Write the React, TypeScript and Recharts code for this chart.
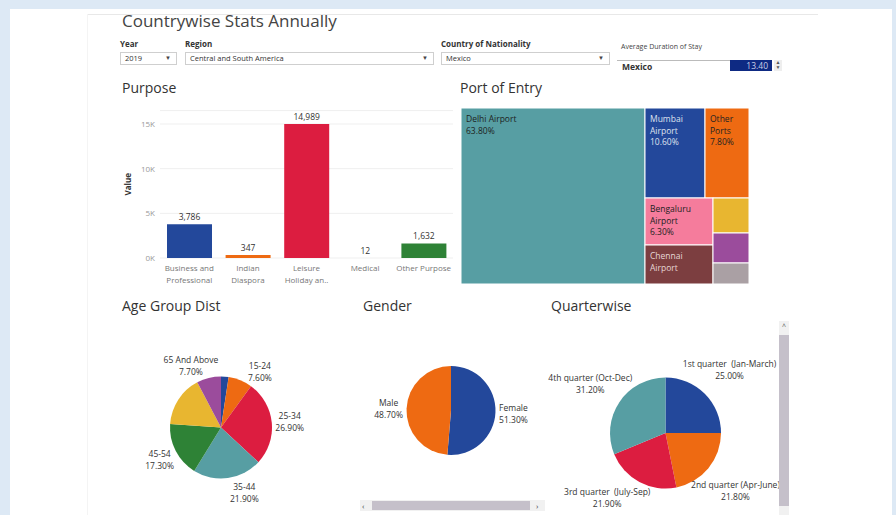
import React from 'react';
import { BarChart, Bar, XAxis, YAxis, CartesianGrid, Cell, LabelList, Treemap, PieChart, Pie } from 'recharts';

// Purpose of visit
const purposeCategories = ['Business and Professional', 'Indian Diaspora', 'Leisure Holiday and Recreation', 'Medical', 'Other Purpose'];
const purposeTickLines = [['Business and', 'Professional'], ['Indian', 'Diaspora'], ['Leisure', 'Holiday an..'], ['Medical'], ['Other Purpose']];
const purposeValues = [3786, 347, 14989, 12, 1632];
const purposeTicks = [0, 5000, 10000, 15000];

// Port of entry (share %)
const ports = ['Delhi Airport', 'Mumbai Airport', 'Other Ports', 'Bengaluru Airport', 'Chennai Airport', 'Kolkata Airport', 'Hyderabad Airport', 'Kochi Airport', 'Goa Airport'];
const portShare = [63.8, 10.6, 7.8, 6.3, 5.3, 2.5, 2.1, 1.5, 0.1];
const portLabelLines = [['Delhi Airport', '63.80%'], ['Mumbai', 'Airport', '10.60%'], ['Other', 'Ports', '7.80%'], ['Bengaluru', 'Airport', '6.30%'], ['Chennai', 'Airport'], [], [], [], []];

// Age groups (share %)
const ageGroups = ['0-14', '15-24', '25-34', '35-44', '45-54', '55-64', '65 And Above'];
const ageShare = [2.4, 7.6, 26.9, 21.9, 17.3, 16.2, 7.7];
const ageLabelShown = [false, true, true, true, true, false, true];

// Gender (share %)
const genders = ['Female', 'Male'];
const genderShare = [51.3, 48.7];

// Quarters (share %)
const quarters = ['1st quarter  (Jan-March)', '2nd quarter (Apr-June)', '3rd quarter  (July-Sep)', '4th quarter (Oct-Dec)'];
const quarterShare = [25.0, 21.8, 21.9, 31.2];

const C = {
  blue: '#23489b',
  orange: '#ee6a12',
  red: '#dc1d40',
  teal: '#579ea3',
  green: '#2e8236',
  yellow: '#e8b630',
  purple: '#9b4c9c',
  brown: '#7c3e40',
  pink: '#f57c9c',
  gray: '#aaa0a4',
  lime: '#3aa63e',
};

const purposeColors = [C.blue, C.orange, C.red, C.blue, C.green];
const portColors = [C.teal, C.blue, C.orange, C.pink, C.brown, C.yellow, C.purple, C.gray, C.lime];
const portTextColors = ['#1e1e1e', '#dfe2ee', '#222', '#222', '#e6d6d6', '#222', '#222', '#222', '#222'];
const ageColors = [C.blue, C.orange, C.red, C.teal, C.green, C.yellow, C.purple];
const genderColors = [C.blue, C.orange];
const quarterColors = [C.blue, C.orange, C.red, C.teal];

const purposeData = purposeCategories.map((name, i) => ({ name, value: purposeValues[i] }));
const portData = ports.map((name, i) => ({ name, size: portShare[i] }));
const ageData = ageGroups.map((name, i) => ({ name, value: ageShare[i] }));
const genderData = genders.map((name, i) => ({ name, value: genderShare[i] }));
const quarterData = quarters.map((name, i) => ({ name, value: quarterShare[i] }));

const FONT = '"Open Sans", sans-serif';
const RAD = Math.PI / 180;

const abs = (left: number, top: number, extra: React.CSSProperties = {}): React.CSSProperties => ({
  position: 'absolute',
  left,
  top,
  ...extra,
});

const PurposeTick = ({ x, y, index }: any) => (
  <text x={x} y={y} textAnchor="middle" fontSize={8} fill="#777" fontFamily={FONT}>
    {(purposeTickLines[index] || []).map((t, i) => (
      <tspan key={i} x={x} dy={i === 0 ? 11 : 12}>{t}</tspan>
    ))}
  </text>
);

const ValueLabel = ({ viewBox }: any) => {
  const x = viewBox.x + 8;
  const y = viewBox.y + viewBox.height / 2;
  return (
    <text x={x} y={y} transform={`rotate(-90 ${x} ${y})`} textAnchor="middle" dominantBaseline="central"
      fontSize={8} fontWeight={700} fill="#333" fontFamily={FONT}>Value</text>
  );
};

const PortCell = (props: any) => {
  const { depth, x, y, width, height, index } = props;
  if (depth !== 1) return null;
  const lines = portLabelLines[index] || [];
  return (
    <g>
      <rect x={x} y={y} width={width} height={height} fill={portColors[index]} stroke="#fff" strokeWidth={1} />
      {lines.map((t, i) => (
        <text key={i} x={x + 5} y={y + 14 + i * 11.5} fontSize={8.5} fontWeight={400} stroke="none"
          fill={portTextColors[index]} fontFamily={FONT}>{t}</text>
      ))}
    </g>
  );
};

// label placed just outside the pie along the slice's middle angle;
// labels close to top/bottom are nudged sideways so they don't collide
const pieLabel = (names: string[], shares: number[], shown: boolean[] | null, gap: number, maxDy: number) => (p: any) => {
  if (shown && !shown[p.index]) return null;
  const r = p.outerRadius + gap;
  // clockwise angle from 12 o'clock
  let a = (90 - p.midAngle + 720) % 360;
  const fromV = (d: number) => Math.min(Math.abs(a - d), 360 - Math.abs(a - d));
  if (fromV(0) < 30) a += a < 180 ? 12 : -12;
  else if (fromV(180) < 30) a += a < 180 ? -12 : 12;
  const x = p.cx + r * Math.sin(a * RAD);
  let y = p.cy - r * Math.cos(a * RAD);
  y = Math.min(y, p.cy + maxDy);
  return (
    <text x={x} y={y} textAnchor="middle" fontSize={8.5} fill="#333" fontFamily={FONT} style={{ whiteSpace: 'pre' }}>
      <tspan x={x} dy={-2}>{names[p.index]}</tspan>
      <tspan x={x} dy={12}>{shares[p.index].toFixed(2)}%</tspan>
    </text>
  );
};

const Dropdown = ({ left, width, text }: { left: number; width: number; text: string }) => (
  <div style={abs(left, 52, { width, height: 13, border: '1px solid #cfcfcf', boxSizing: 'border-box', background: '#fff' })}>
    <span style={abs(4, 0, { fontSize: 7.5, lineHeight: '11px', color: '#333' })}>{text}</span>
    <span style={abs(width - 13, 0, { fontSize: 6, lineHeight: '11px', color: '#444' })}>▼</span>
  </div>
);

const Title = ({ left, top, text }: { left: number; top: number; text: string }) => (
  <div style={abs(left, top, { fontSize: 14, lineHeight: '18px', color: '#333' })}>{text}</div>
);

export default function App() {
  return (
    <div style={abs(0, 0, { width: 896, height: 515, background: '#dde9f5', overflow: 'hidden', fontFamily: FONT })}>
      <div style={abs(10, 9, { width: 882, height: 506, background: '#fff' })} />
      <div style={abs(87, 14, { width: 731, height: 1, background: '#e8e8e8' })} />
      <div style={abs(87, 14, { width: 1, height: 501, background: '#f4f4f4' })} />

      <div style={abs(122, 9, { fontSize: 17, lineHeight: '24px', color: '#444' })}>Countrywise Stats Annually</div>

      <div style={abs(120, 39, { fontSize: 8, fontWeight: 700, lineHeight: '10px', color: '#333' })}>Year</div>
      <div style={abs(185, 39, { fontSize: 8, fontWeight: 700, lineHeight: '10px', color: '#333' })}>Region</div>
      <div style={abs(441, 39, { fontSize: 8, fontWeight: 700, lineHeight: '10px', color: '#333' })}>Country of Nationality</div>
      <Dropdown left={120} width={57} text="2019" />
      <Dropdown left={185} width={249} text="Central and South America" />
      <Dropdown left={441} width={169} text="Mexico" />

      <div style={abs(621, 42, { fontSize: 7, lineHeight: '10px', color: '#444' })}>Average Duration of Stay</div>
      <div style={abs(617, 60, { width: 113, height: 1, background: '#bbb' })} />
      <div style={abs(622, 61, { fontSize: 8.5, fontWeight: 700, lineHeight: '11px', color: '#333' })}>Mexico</div>
      <div style={abs(730, 60, { width: 42, height: 11, background: '#0e2a83', color: '#c9cde6', fontSize: 8.5, lineHeight: '11px', textAlign: 'right', paddingRight: 4, boxSizing: 'border-box' })}>13.40</div>
      <div style={abs(774, 60, { width: 8, height: 11, background: '#eee', color: '#555', fontSize: 5, lineHeight: '5px', textAlign: 'center' })}>▲<br />▼</div>

      <Title left={122} top={79} text="Purpose" />
      <Title left={460} top={79} text="Port of Entry" />
      <Title left={122} top={297} text="Age Group Dist" />
      <Title left={363} top={297} text="Gender" />
      <Title left={551} top={297} text="Quarterwise" />

      <div style={abs(110, 100)}>
        <BarChart width={350} height={200} data={purposeData} margin={{ top: 10.6, right: 7, bottom: 12, left: 10 }}>
          <CartesianGrid vertical={false} stroke="#efefef" />
          <XAxis dataKey="name" axisLine={false} tickLine={false} tickSize={0} interval={0} height={30} tick={<PurposeTick />} />
          <YAxis width={40} domain={[0, 16500]} ticks={purposeTicks} axisLine={false} tickLine={false} tickSize={0} tickMargin={5}
            tickFormatter={(v: number) => `${v / 1000}K`} tick={{ fontSize: 8, fill: '#999', fontFamily: FONT }} label={<ValueLabel />} />
          <Bar dataKey="value" barSize={45} isAnimationActive={false}>
            {purposeData.map((d, i) => <Cell key={d.name} fill={purposeColors[i]} />)}
            <LabelList dataKey="value" position="top" offset={4} formatter={(v: any) => Number(v).toLocaleString('en-US')}
              style={{ fontSize: 8.5, fill: '#333', fontFamily: FONT }} />
          </Bar>
        </BarChart>
      </div>

      <div style={abs(460.5, 107.5)}>
        <Treemap width={288} height={176} data={portData} dataKey="size" nameKey="name" isAnimationActive={false}
          stroke="#fff" content={<PortCell />} />
      </div>

      <div style={abs(120, 330)}>
        <PieChart width={220} height={185}>
          <Pie data={ageData} dataKey="value" nameKey="name" cx={96} cy={92.5} outerRadius={51} startAngle={90} endAngle={-270}
            stroke="none" labelLine={false} isAnimationActive={false}
            label={pieLabel(ageGroups, ageShare, ageLabelShown, 18, 100)}>
            {ageData.map((d, i) => <Cell key={d.name} fill={ageColors[i]} />)}
          </Pie>
        </PieChart>
      </div>

      <div style={abs(345, 330)}>
        <PieChart width={200} height={170}>
          <Pie data={genderData} dataKey="value" nameKey="name" cx={101} cy={75.5} outerRadius={44.5} startAngle={90} endAngle={-270}
            stroke="none" labelLine={false} isAnimationActive={false}
            label={pieLabel(genders, genderShare, null, 18, 100)}>
            {genderData.map((d, i) => <Cell key={d.name} fill={genderColors[i]} />)}
          </Pie>
        </PieChart>
      </div>

      <div style={abs(540, 320, { width: 239, height: 195, overflow: 'hidden' })}>
        <PieChart width={280} height={195}>
          <Pie data={quarterData} dataKey="value" nameKey="name" cx={120.5} cy={108} outerRadius={55.5} startAngle={90} endAngle={-270}
            stroke="none" labelLine={false} isAnimationActive={false}
            label={pieLabel(quarters, quarterShare, null, 35, 64)}>
            {quarterData.map((d, i) => <Cell key={d.name} fill={quarterColors[i]} />)}
          </Pie>
        </PieChart>
      </div>

      {/* scrollbars */}
      <div style={abs(779, 321, { width: 10, height: 194, background: '#f1f1f1' })} />
      <div style={abs(779, 322, { width: 10, fontSize: 7, lineHeight: '10px', textAlign: 'center', color: '#555' })}>^</div>
      <div style={abs(779, 335, { width: 10, height: 171, background: '#c5c0ca' })} />
      <div style={abs(360, 500, { width: 185, height: 11, background: '#f1f1f1' })} />
      <div style={abs(372, 501, { width: 158, height: 9, background: '#c5c0ca' })} />
      <div style={abs(362, 500, { fontSize: 8, lineHeight: '11px', color: '#444' })}>‹</div>
      <div style={abs(536, 500, { fontSize: 8, lineHeight: '11px', color: '#444' })}>›</div>
    </div>
  );
}
